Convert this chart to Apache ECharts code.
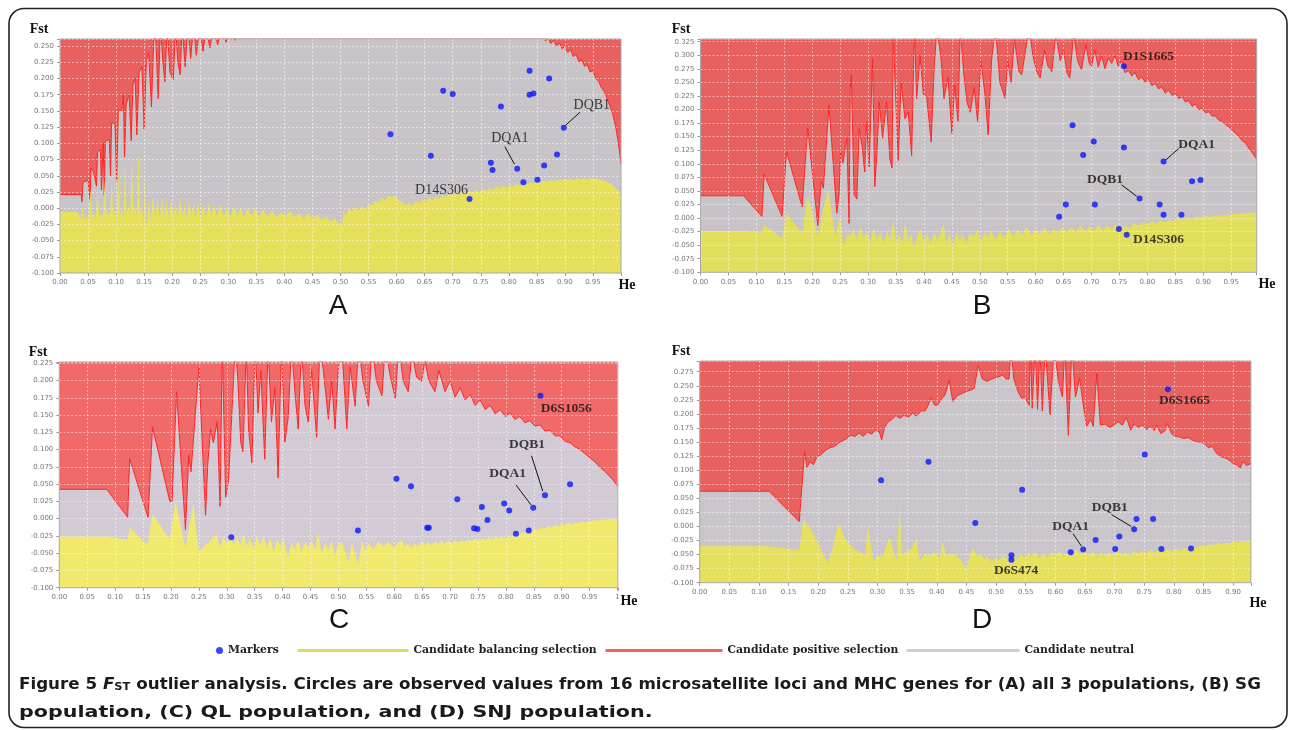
<!DOCTYPE html>
<html><head><meta charset="utf-8">
<script src="https://cdn.jsdelivr.net/npm/echarts@6/dist/echarts.min.js"></script>
<style>html,body{margin:0;padding:0;background:#fff}#c{width:1290px;height:731px}</style>
</head><body><div id="c"></div>
<script>
// ---------------- Panel A (all 3 populations) ----------------
const aUpper = [[0,0.021],[0.038,0.021],[0.039,0.010],[0.041,0.040],[0.050,0.043],[0.0535,0.011],[0.055,0.062],[0.060,0.055],[0.065,0.034],[0.067,0.087],[0.072,0.090],[0.074,0.028],[0.077,0.100],[0.079,0.020],[0.081,0.103],[0.088,0.106],[0.090,0.050],[0.092,0.132],[0.098,0.130],[0.101,0.043],[0.104,0.152],[0.110,0.150],[0.113,0.175],[0.115,0.079],[0.118,0.160],[0.123,0.176],[0.127,0.104],[0.130,0.190],[0.134,0.200],[0.137,0.113],[0.141,0.210],[0.146,0.218],[0.150,0.122],[0.154,0.228],[0.158,0.240],[0.163,0.156],[0.167,0.255],[0.170,0.28],[0.175,0.169],[0.179,0.28],[0.183,0.230],[0.187,0.195],[0.191,0.28],[0.196,0.210],[0.202,0.198],[0.206,0.28],[0.210,0.225],[0.214,0.206],[0.218,0.28],[0.223,0.218],[0.228,0.28],[0.233,0.231],[0.238,0.28],[0.243,0.236],[0.249,0.28],[0.255,0.242],[0.261,0.28],[0.267,0.247],[0.274,0.28],[0.281,0.252],[0.289,0.28],[0.296,0.256],[0.304,0.28],[0.312,0.259],[0.320,0.28],[0.860,0.28],[0.865,0.258],[0.870,0.262],[0.875,0.254],[0.880,0.259],[0.885,0.250],[0.890,0.255],[0.895,0.246],[0.900,0.250],[0.905,0.240],[0.910,0.245],[0.915,0.234],[0.920,0.237],[0.925,0.226],[0.930,0.229],[0.935,0.219],[0.940,0.221],[0.945,0.210],[0.950,0.212],[0.955,0.200],[0.960,0.196],[0.965,0.186],[0.970,0.180],[0.975,0.170],[0.980,0.158],[0.985,0.146],[0.990,0.128],[0.995,0.103],[1.0,0.068]];
const aLower = [[0,-0.006],[0.030,-0.006],[0.035,-0.012],[0.038,-0.016],[0.040,0.002],[0.043,-0.018],[0.047,-0.010],[0.050,-0.020],[0.054,0.028],[0.057,-0.012],[0.060,-0.005],[0.063,-0.018],[0.067,0.026],[0.070,-0.014],[0.073,-0.006],[0.076,-0.018],[0.080,0.043],[0.083,-0.012],[0.086,-0.004],[0.089,-0.016],[0.092,0.040],[0.095,-0.010],[0.098,-0.002],[0.101,-0.016],[0.104,0.056],[0.107,-0.010],[0.110,0.000],[0.113,-0.014],[0.116,0.069],[0.119,-0.008],[0.122,0.004],[0.125,-0.012],[0.128,0.082],[0.131,-0.006],[0.134,0.006],[0.137,-0.012],[0.140,0.092],[0.143,-0.006],[0.146,0.002],[0.149,-0.020],[0.151,0.050],[0.154,-0.025],[0.158,0.012],[0.162,-0.018],[0.166,0.020],[0.170,-0.014],[0.174,0.014],[0.178,-0.016],[0.182,0.016],[0.186,-0.012],[0.190,0.010],[0.194,-0.016],[0.198,0.013],[0.202,-0.012],[0.206,0.008],[0.210,-0.014],[0.214,0.016],[0.218,-0.012],[0.222,0.006],[0.226,-0.016],[0.230,0.012],[0.234,-0.010],[0.238,0.008],[0.242,-0.014],[0.246,0.010],[0.250,-0.012],[0.255,0.006],[0.260,-0.014],[0.265,0.008],[0.270,-0.010],[0.275,0.004],[0.280,-0.012],[0.286,0.006],[0.292,-0.013],[0.298,0.002],[0.304,-0.014],[0.310,0.004],[0.316,-0.012],[0.322,0.002],[0.328,-0.014],[0.335,0.000],[0.342,-0.012],[0.348,0.002],[0.355,-0.014],[0.362,-0.002],[0.370,-0.013],[0.378,-0.004],[0.386,-0.014],[0.394,-0.006],[0.402,-0.012],[0.410,-0.004],[0.418,-0.014],[0.426,-0.008],[0.434,-0.015],[0.442,-0.008],[0.450,-0.016],[0.458,-0.010],[0.466,-0.018],[0.474,-0.012],[0.482,-0.020],[0.490,-0.015],[0.497,-0.024],[0.502,-0.026],[0.506,-0.006],[0.510,-0.012],[0.514,0.000],[0.520,-0.006],[0.526,0.002],[0.532,-0.004],[0.538,0.004],[0.544,-0.002],[0.550,0.006],[0.556,0.004],[0.562,0.012],[0.568,0.008],[0.574,0.016],[0.580,0.013],[0.586,0.020],[0.592,0.016],[0.598,0.019],[0.604,0.012],[0.610,0.010],[0.616,0.004],[0.622,0.008],[0.628,0.004],[0.634,0.011],[0.640,0.008],[0.646,0.014],[0.652,0.010],[0.658,0.016],[0.664,0.012],[0.670,0.018],[0.676,0.014],[0.682,0.020],[0.688,0.017],[0.694,0.022],[0.700,0.019],[0.706,0.024],[0.712,0.020],[0.718,0.026],[0.724,0.022],[0.730,0.027],[0.736,0.024],[0.742,0.028],[0.748,0.025],[0.754,0.030],[0.760,0.026],[0.766,0.031],[0.772,0.028],[0.778,0.033],[0.784,0.030],[0.790,0.035],[0.796,0.032],[0.802,0.036],[0.808,0.033],[0.814,0.037],[0.820,0.035],[0.826,0.039],[0.832,0.036],[0.838,0.040],[0.844,0.038],[0.850,0.042],[0.856,0.039],[0.862,0.043],[0.868,0.040],[0.874,0.043],[0.880,0.041],[0.886,0.044],[0.892,0.042],[0.898,0.045],[0.904,0.043],[0.910,0.045],[0.916,0.043],[0.922,0.046],[0.928,0.044],[0.934,0.046],[0.940,0.044],[0.946,0.046],[0.952,0.045],[0.958,0.046],[0.964,0.043],[0.970,0.042],[0.976,0.040],[0.982,0.038],[0.988,0.034],[0.994,0.028],[1.0,0.022]];
const aMarkers = [[0.589,0.114],[0.661,0.081],[0.683,0.181],[0.700,0.176],[0.730,0.014],[0.768,0.070],[0.771,0.059],[0.786,0.157],[0.815,0.061],[0.826,0.040],[0.837,0.212],[0.837,0.175],[0.844,0.177],[0.851,0.044],[0.863,0.066],[0.872,0.200],[0.886,0.083],[0.898,0.124]];
const aNotes = [[0.948,0.159,'DQB1'],[0.802,0.107,'DQA1'],[0.680,0.028,'D14S306']];
const aArrows = [[0.927,0.148,0.900,0.127],[0.793,0.095,0.810,0.068]];

// ---------------- Panel B (SG) ----------------
const bUpper = [[0,0.041],[0.077,0.041],[0.110,0.003],[0.114,0.081],[0.146,0.003],[0.154,0.122],[0.182,0.021],[0.192,0.166],[0.210,-0.014],[0.216,0.067],[0.220,0.055],[0.230,0.208],[0.244,0.009],[0.248,0.043],[0.251,0.125],[0.255,0.101],[0.262,0.147],[0.266,-0.010],[0.268,0.239],[0.270,0.264],[0.275,0.043],[0.280,0.035],[0.284,0.165],[0.289,0.134],[0.294,0.085],[0.297,0.178],[0.302,0.094],[0.308,0.294],[0.312,0.058],[0.316,0.122],[0.320,0.214],[0.326,0.147],[0.333,0.214],[0.339,0.109],[0.343,0.092],[0.345,0.35],[0.348,0.257],[0.354,0.106],[0.359,0.251],[0.366,0.183],[0.372,0.195],[0.378,0.115],[0.383,0.35],[0.387,0.220],[0.393,0.300],[0.399,0.228],[0.405,0.222],[0.413,0.140],[0.418,0.270],[0.423,0.35],[0.430,0.300],[0.436,0.220],[0.443,0.260],[0.450,0.156],[0.455,0.245],[0.461,0.178],[0.465,0.35],[0.471,0.270],[0.477,0.214],[0.483,0.195],[0.490,0.240],[0.496,0.178],[0.502,0.290],[0.509,0.230],[0.515,0.153],[0.521,0.290],[0.528,0.35],[0.536,0.250],[0.545,0.221],[0.550,0.290],[0.556,0.250],[0.562,0.330],[0.570,0.270],[0.575,0.264],[0.582,0.310],[0.588,0.35],[0.595,0.300],[0.602,0.270],[0.608,0.258],[0.616,0.310],[0.622,0.280],[0.629,0.270],[0.636,0.340],[0.644,0.290],[0.650,0.310],[0.656,0.268],[0.661,0.258],[0.668,0.340],[0.675,0.290],[0.682,0.273],[0.690,0.320],[0.696,0.285],[0.700,0.280],[0.706,0.310],[0.712,0.278],[0.718,0.300],[0.724,0.275],[0.730,0.295],[0.736,0.285],[0.742,0.300],[0.748,0.280],[0.754,0.290],[0.760,0.268],[0.766,0.272],[0.772,0.262],[0.778,0.268],[0.784,0.255],[0.790,0.260],[0.796,0.250],[0.802,0.256],[0.808,0.244],[0.814,0.248],[0.820,0.238],[0.826,0.242],[0.832,0.230],[0.838,0.236],[0.844,0.226],[0.850,0.230],[0.856,0.220],[0.862,0.224],[0.868,0.214],[0.874,0.216],[0.880,0.206],[0.886,0.210],[0.892,0.200],[0.898,0.202],[0.904,0.194],[0.910,0.196],[0.916,0.188],[0.922,0.188],[0.928,0.180],[0.934,0.178],[0.940,0.172],[0.946,0.168],[0.952,0.162],[0.958,0.156],[0.964,0.150],[0.970,0.142],[0.976,0.138],[0.982,0.128],[0.988,0.120],[0.996,0.108]];
const bLower = [[0,-0.024],[0.068,-0.024],[0.110,-0.026],[0.114,-0.013],[0.146,-0.037],[0.154,0.009],[0.182,-0.028],[0.192,0.041],[0.210,-0.035],[0.220,0.018],[0.229,0.052],[0.241,-0.034],[0.250,0.006],[0.256,-0.053],[0.262,-0.030],[0.268,-0.032],[0.274,-0.020],[0.280,-0.040],[0.286,-0.015],[0.292,-0.036],[0.298,-0.026],[0.304,-0.044],[0.310,-0.018],[0.316,-0.038],[0.322,-0.028],[0.328,-0.046],[0.334,-0.024],[0.340,-0.040],[0.345,-0.001],[0.350,-0.044],[0.356,-0.030],[0.362,-0.046],[0.366,-0.008],[0.372,-0.040],[0.378,-0.030],[0.381,-0.056],[0.388,-0.034],[0.394,-0.020],[0.400,-0.042],[0.406,-0.030],[0.412,-0.048],[0.418,-0.026],[0.424,-0.040],[0.430,-0.028],[0.435,-0.011],[0.440,-0.044],[0.446,-0.030],[0.452,-0.052],[0.458,-0.026],[0.464,-0.040],[0.470,-0.030],[0.476,-0.046],[0.482,-0.028],[0.490,-0.034],[0.496,-0.020],[0.502,-0.044],[0.508,-0.026],[0.514,-0.036],[0.520,-0.022],[0.528,-0.040],[0.536,-0.024],[0.544,-0.036],[0.552,-0.020],[0.560,-0.034],[0.568,-0.022],[0.576,-0.030],[0.584,-0.016],[0.592,-0.032],[0.600,-0.022],[0.608,-0.030],[0.616,-0.018],[0.624,-0.030],[0.632,-0.020],[0.640,-0.028],[0.648,-0.018],[0.656,-0.026],[0.664,-0.016],[0.672,-0.026],[0.680,-0.014],[0.688,-0.024],[0.696,-0.016],[0.704,-0.024],[0.712,-0.014],[0.720,-0.022],[0.728,-0.014],[0.736,-0.020],[0.744,-0.012],[0.752,-0.020],[0.760,-0.014],[0.768,-0.018],[0.776,-0.010],[0.784,-0.014],[0.792,-0.008],[0.800,-0.012],[0.808,-0.006],[0.816,-0.010],[0.824,-0.004],[0.832,-0.008],[0.840,-0.003],[0.848,-0.006],[0.856,-0.001],[0.864,-0.004],[0.872,0.001],[0.880,-0.002],[0.888,0.003],[0.896,0.001],[0.904,0.004],[0.912,0.002],[0.920,0.005],[0.928,0.004],[0.936,0.006],[0.944,0.005],[0.952,0.008],[0.960,0.007],[0.968,0.009],[0.976,0.008],[0.984,0.010],[0.996,0.009]];
const bMarkers = [[0.758,0.280],[0.666,0.171],[0.704,0.141],[0.758,0.130],[0.685,0.116],[0.829,0.104],[0.880,0.068],[0.895,0.070],[0.786,0.036],[0.654,0.025],[0.706,0.025],[0.822,0.025],[0.642,0.0025],[0.829,0.006],[0.861,0.006],[0.749,-0.020],[0.763,-0.031]];
const bNotes = [[0.802,0.297,'D1S1665'],[0.888,0.136,'DQA1'],[0.724,0.071,'DQB1'],[0.820,-0.039,'D14S306']];
const bArrows = [[0.856,0.128,0.833,0.107],[0.754,0.061,0.781,0.040]];

// ---------------- Panel C (QL) ----------------
const cUpper = [[0,0.0425],[0.085,0.0425],[0.1225,0.002],[0.126,0.087],[0.159,0.002],[0.167,0.133],[0.198,0.025],[0.202,0.025],[0.210,0.184],[0.226,-0.016],[0.232,0.092],[0.236,0.068],[0.242,0.133],[0.250,0.220],[0.262,0.005],[0.266,0.080],[0.271,0.130],[0.276,0.110],[0.283,0.141],[0.288,0.018],[0.292,0.25],[0.298,0.031],[0.303,0.055],[0.309,0.150],[0.315,0.25],[0.320,0.200],[0.325,0.111],[0.329,0.097],[0.335,0.25],[0.339,0.130],[0.345,0.081],[0.351,0.25],[0.356,0.153],[0.361,0.215],[0.368,0.086],[0.374,0.25],[0.380,0.140],[0.386,0.190],[0.392,0.059],[0.398,0.25],[0.404,0.111],[0.410,0.146],[0.416,0.25],[0.422,0.184],[0.428,0.130],[0.434,0.25],[0.440,0.165],[0.446,0.140],[0.452,0.215],[0.461,0.118],[0.467,0.25],[0.473,0.215],[0.482,0.144],[0.488,0.200],[0.494,0.130],[0.500,0.220],[0.506,0.25],[0.515,0.130],[0.521,0.220],[0.530,0.163],[0.536,0.25],[0.544,0.200],[0.554,0.163],[0.560,0.25],[0.568,0.200],[0.578,0.178],[0.584,0.25],[0.592,0.210],[0.602,0.174],[0.608,0.25],[0.616,0.200],[0.625,0.184],[0.632,0.240],[0.640,0.205],[0.649,0.199],[0.655,0.230],[0.662,0.200],[0.673,0.184],[0.680,0.215],[0.691,0.184],[0.700,0.200],[0.709,0.176],[0.718,0.190],[0.727,0.172],[0.736,0.180],[0.745,0.164],[0.754,0.172],[0.763,0.158],[0.772,0.164],[0.781,0.152],[0.790,0.158],[0.799,0.148],[0.808,0.153],[0.816,0.144],[0.825,0.148],[0.834,0.139],[0.843,0.142],[0.852,0.134],[0.861,0.136],[0.870,0.127],[0.879,0.128],[0.888,0.120],[0.897,0.120],[0.906,0.112],[0.915,0.110],[0.924,0.104],[0.933,0.100],[0.942,0.094],[0.951,0.088],[0.960,0.082],[0.969,0.074],[0.978,0.068],[0.985,0.062],[0.992,0.056],[1.0,0.047]];
const cLower = [[0,-0.026],[0.085,-0.026],[0.1225,-0.030],[0.126,-0.012],[0.158,-0.039],[0.167,0.006],[0.198,-0.030],[0.208,0.026],[0.226,-0.043],[0.240,0.022],[0.250,-0.049],[0.258,-0.040],[0.267,-0.035],[0.275,-0.028],[0.282,-0.022],[0.288,-0.043],[0.294,-0.026],[0.300,-0.036],[0.306,-0.024],[0.312,-0.040],[0.318,-0.026],[0.324,-0.038],[0.330,-0.022],[0.336,-0.040],[0.342,-0.028],[0.348,-0.044],[0.354,-0.024],[0.360,-0.038],[0.366,-0.026],[0.372,-0.042],[0.378,-0.028],[0.384,-0.046],[0.390,-0.030],[0.396,-0.040],[0.402,-0.028],[0.410,-0.057],[0.416,-0.034],[0.422,-0.044],[0.428,-0.030],[0.434,-0.048],[0.440,-0.034],[0.446,-0.042],[0.452,-0.030],[0.458,-0.046],[0.464,-0.020],[0.470,-0.050],[0.476,-0.036],[0.482,-0.044],[0.488,-0.032],[0.494,-0.053],[0.500,-0.036],[0.506,-0.033],[0.512,-0.046],[0.518,-0.062],[0.524,-0.034],[0.530,-0.050],[0.536,-0.067],[0.542,-0.032],[0.548,-0.046],[0.554,-0.036],[0.562,-0.044],[0.572,-0.033],[0.580,-0.040],[0.590,-0.034],[0.600,-0.042],[0.606,-0.035],[0.613,-0.031],[0.619,-0.040],[0.625,-0.036],[0.631,-0.042],[0.637,-0.036],[0.643,-0.040],[0.649,-0.033],[0.655,-0.038],[0.661,-0.034],[0.667,-0.039],[0.673,-0.033],[0.679,-0.037],[0.685,-0.031],[0.691,-0.036],[0.697,-0.032],[0.703,-0.036],[0.709,-0.031],[0.715,-0.035],[0.721,-0.031],[0.727,-0.034],[0.733,-0.030],[0.739,-0.033],[0.745,-0.029],[0.751,-0.032],[0.757,-0.028],[0.763,-0.031],[0.769,-0.027],[0.775,-0.030],[0.781,-0.026],[0.787,-0.029],[0.793,-0.026],[0.799,-0.029],[0.805,-0.024],[0.811,-0.027],[0.817,-0.022],[0.822,-0.025],[0.828,-0.019],[0.834,-0.021],[0.840,-0.016],[0.846,-0.019],[0.852,-0.014],[0.858,-0.017],[0.864,-0.012],[0.870,-0.015],[0.876,-0.010],[0.882,-0.013],[0.888,-0.009],[0.894,-0.011],[0.900,-0.007],[0.906,-0.010],[0.912,-0.006],[0.918,-0.008],[0.924,-0.005],[0.930,-0.007],[0.936,-0.004],[0.942,-0.006],[0.948,-0.003],[0.954,-0.004],[0.960,-0.002],[0.966,-0.003],[0.972,-0.001],[0.980,-0.002],[0.990,0.000],[1.0,0.000]];
const cMarkers = [[0.308,-0.027],[0.535,-0.017],[0.604,0.058],[0.630,0.047],[0.659,-0.013],[0.662,-0.013],[0.713,0.028],[0.743,-0.014],[0.749,-0.015],[0.757,0.017],[0.767,-0.002],[0.797,0.022],[0.806,0.012],[0.818,-0.022],[0.841,-0.017],[0.849,0.016],[0.870,0.034],[0.862,0.178],[0.915,0.050]];
const cNotes = [[0.908,0.159,'D6S1056'],[0.838,0.107,'DQB1'],[0.803,0.065,'DQA1']];
const cArrows = [[0.846,0.091,0.866,0.040],[0.818,0.049,0.845,0.020]];

// ---------------- Panel D (SNJ) ----------------
const dUpper = [[0,0.0625],[0.117,0.0625],[0.168,0.0085],[0.177,0.133],[0.181,0.105],[0.186,0.115],[0.192,0.110],[0.198,0.124],[0.205,0.128],[0.213,0.136],[0.220,0.140],[0.227,0.142],[0.234,0.148],[0.241,0.152],[0.248,0.156],[0.255,0.162],[0.262,0.160],[0.269,0.166],[0.276,0.160],[0.283,0.168],[0.290,0.164],[0.297,0.171],[0.303,0.168],[0.307,0.154],[0.312,0.176],[0.317,0.185],[0.324,0.190],[0.331,0.197],[0.338,0.192],[0.345,0.198],[0.352,0.194],[0.360,0.202],[0.365,0.196],[0.369,0.200],[0.375,0.206],[0.380,0.205],[0.385,0.214],[0.390,0.229],[0.396,0.216],[0.401,0.215],[0.408,0.226],[0.414,0.234],[0.421,0.260],[0.427,0.222],[0.434,0.232],[0.442,0.236],[0.450,0.240],[0.457,0.242],[0.463,0.245],[0.470,0.286],[0.477,0.262],[0.484,0.258],[0.491,0.261],[0.498,0.264],[0.505,0.266],[0.511,0.269],[0.517,0.262],[0.522,0.262],[0.525,0.32],[0.530,0.262],[0.537,0.240],[0.543,0.228],[0.549,0.229],[0.556,0.215],[0.558,0.32],[0.561,0.210],[0.566,0.32],[0.570,0.208],[0.574,0.32],[0.578,0.205],[0.583,0.32],[0.591,0.198],[0.598,0.32],[0.605,0.260],[0.612,0.230],[0.616,0.32],[0.622,0.162],[0.628,0.32],[0.634,0.230],[0.641,0.263],[0.648,0.210],[0.653,0.178],[0.660,0.190],[0.664,0.178],[0.670,0.272],[0.676,0.180],[0.684,0.182],[0.692,0.176],[0.699,0.180],[0.706,0.186],[0.713,0.180],[0.720,0.194],[0.727,0.171],[0.733,0.182],[0.740,0.176],[0.747,0.180],[0.754,0.172],[0.761,0.178],[0.767,0.170],[0.771,0.180],[0.778,0.165],[0.785,0.170],[0.789,0.183],[0.796,0.165],[0.803,0.160],[0.810,0.159],[0.817,0.156],[0.824,0.158],[0.830,0.154],[0.837,0.151],[0.844,0.150],[0.851,0.148],[0.858,0.140],[0.865,0.142],[0.872,0.130],[0.879,0.124],[0.886,0.122],[0.893,0.118],[0.900,0.112],[0.907,0.109],[0.912,0.104],[0.917,0.115],[0.923,0.108],[0.930,0.112]];
const dLower = [[0,-0.035],[0.117,-0.035],[0.168,-0.042],[0.175,0.0127],[0.190,-0.010],[0.205,-0.040],[0.215,-0.065],[0.224,-0.040],[0.234,0.006],[0.245,-0.020],[0.262,-0.042],[0.272,-0.046],[0.279,-0.051],[0.284,0.001],[0.290,-0.040],[0.293,-0.064],[0.299,-0.052],[0.305,-0.054],[0.310,-0.050],[0.316,-0.030],[0.321,-0.018],[0.327,-0.045],[0.333,-0.060],[0.337,0.044],[0.341,-0.050],[0.349,-0.045],[0.357,-0.040],[0.366,-0.021],[0.372,-0.062],[0.380,-0.048],[0.388,-0.052],[0.395,-0.045],[0.405,-0.057],[0.410,-0.027],[0.416,-0.051],[0.425,-0.048],[0.433,-0.051],[0.441,-0.060],[0.450,-0.075],[0.457,-0.048],[0.462,-0.039],[0.468,-0.054],[0.474,-0.050],[0.480,-0.058],[0.486,-0.052],[0.492,-0.063],[0.498,-0.055],[0.505,-0.060],[0.512,-0.052],[0.518,-0.057],[0.524,-0.066],[0.530,-0.050],[0.536,-0.060],[0.542,-0.050],[0.548,-0.056],[0.554,-0.046],[0.560,-0.054],[0.566,-0.046],[0.574,-0.056],[0.580,-0.048],[0.587,-0.056],[0.594,-0.044],[0.600,-0.052],[0.607,-0.044],[0.614,-0.054],[0.621,-0.046],[0.628,-0.052],[0.635,-0.040],[0.642,-0.050],[0.649,-0.042],[0.656,-0.052],[0.663,-0.044],[0.670,-0.054],[0.677,-0.046],[0.684,-0.052],[0.691,-0.046],[0.698,-0.052],[0.705,-0.044],[0.712,-0.050],[0.719,-0.046],[0.726,-0.052],[0.733,-0.044],[0.740,-0.048],[0.747,-0.043],[0.754,-0.048],[0.761,-0.042],[0.768,-0.047],[0.775,-0.041],[0.782,-0.046],[0.789,-0.040],[0.796,-0.044],[0.803,-0.039],[0.810,-0.043],[0.817,-0.038],[0.824,-0.041],[0.831,-0.036],[0.838,-0.038],[0.845,-0.034],[0.852,-0.036],[0.859,-0.032],[0.866,-0.034],[0.873,-0.030],[0.880,-0.032],[0.887,-0.029],[0.894,-0.030],[0.901,-0.027],[0.908,-0.029],[0.915,-0.026],[0.922,-0.027],[0.930,-0.024]];
const dMarkers = [[0.306,0.082],[0.386,0.115],[0.465,0.006],[0.526,-0.051],[0.526,-0.059],[0.544,0.065],[0.626,-0.046],[0.647,-0.041],[0.668,-0.024],[0.701,-0.040],[0.708,-0.018],[0.733,-0.005],[0.737,0.013],[0.751,0.128],[0.765,0.013],[0.779,-0.040],[0.790,0.244],[0.829,-0.039]];
const dNotes = [[0.818,0.223,'D6S1665'],[0.692,0.033,'DQB1'],[0.626,0.000,'DQA1'],[0.534,-0.079,'D6S474']];
const dArrows = [[0.695,0.021,0.728,0.000],[0.630,-0.013,0.644,-0.035]];

// axis settings
const xStep = 0.05, yStep = 0.025;
const legendNames = ['Markers','Candidate balancing selection','Candidate positive selection','Candidate neutral'];
const caption1 = ' outlier analysis. Circles are observed values from 16 microsatellite loci and MHC genes for (A) all 3 populations, (B) SG';
const caption2 = 'population, (C) QL population, and (D) SNJ population.';

function isMult(v, s){ const r = v / s; return Math.abs(r - Math.round(r)) < 1e-4; }

const panels = [
  {grid:{left:60, top:39, width:561, height:234}, xMax:1, yMax:0.261, up:aUpper, lo:aLower, mk:aMarkers, notes:aNotes, arrows:aArrows, red:'#e8615f', gray:'#c8c4c8', yellow:'#e6e05c', bold:false, endLabel:''},
  {grid:{left:700.5, top:39, width:556.2, height:233.3}, xMax:0.9957, yMax:0.33, up:bUpper, lo:bLower, mk:bMarkers, notes:bNotes, arrows:bArrows, red:'#e8615f', gray:'#c7c3c7', yellow:'#e3df5e', bold:true, endLabel:''},
  {grid:{left:59.3, top:362, width:558.5, height:225.7}, xMax:1.0005, yMax:0.227, up:cUpper, lo:cLower, mk:cMarkers, notes:cNotes, arrows:cArrows, red:'#f06a6a', gray:'#d2cad4', yellow:'#f0e96e', bold:true, endLabel:'1'},
  {grid:{left:699.7, top:361, width:551.2, height:221.7}, xMax:0.93, yMax:0.294, up:dUpper, lo:dLower, mk:dMarkers, notes:dNotes, arrows:dArrows, red:'#e8615f', gray:'#c9c5ca', yellow:'#e6e05c', bold:true, endLabel:''}
];

const grids = [], xAxes = [], yAxes = [], series = [];
panels.forEach((p, i) => {
  grids.push(Object.assign({show:true, borderColor:'#a8a8a8', borderWidth:1, backgroundColor:'transparent', z:10}, p.grid));
  const tickFont = {fontFamily:'DejaVu Sans', fontSize:7, color:'#777'};
  const split = {show:true, lineStyle:{color:'rgba(255,255,255,0.5)', type:[2,2], width:1}};
  xAxes.push({type:'value', gridIndex:i, position:'bottom', min:0, max:p.xMax, interval:xStep, z:5,
    axisLine:{show:false, onZero:false}, axisTick:{show:true, length:3, lineStyle:{color:'#999'}},
    axisLabel:Object.assign({margin:6, showMaxLabel:true, hideOverlap:false, formatter:v => {
      if (!isMult(v, xStep)) return '';
      if (v > 0.9995) return p.endLabel;
      return (Math.abs(v) < 1e-9 ? 0 : v).toFixed(2);
    }}, tickFont),
    splitLine:split});
  yAxes.push({type:'value', gridIndex:i, position:'left', min:-0.1, max:p.yMax, interval:yStep, z:5,
    axisLine:{show:false, onZero:false}, axisTick:{show:true, length:3, lineStyle:{color:'#999'}},
    axisLabel:Object.assign({margin:6, formatter:v => {
      if (!isMult(v, yStep)) return '';
      return (Math.abs(v) < 1e-9 ? 0 : v).toFixed(3);
    }}, tickFont),
    splitLine:split});
  const common = {type:'line', xAxisIndex:i, yAxisIndex:i, symbol:'none', showSymbol:false, silent:true, animation:false};
  series.push(Object.assign({}, common, {name:'Candidate neutral', data:p.up, z:1,
    lineStyle:{width:0, color:'#d6c6d6'}, itemStyle:{color:'#d6c6d6'},
    areaStyle:{color:p.gray, opacity:1, origin:'start'}}));
  series.push(Object.assign({}, common, {name:'Candidate positive selection', data:p.up, z:2,
    lineStyle:{width:1, color:'#ff2424'}, itemStyle:{color:'#ef6262'},
    areaStyle:{color:p.red, opacity:1, origin:'end'}}));
  series.push(Object.assign({}, common, {name:'Candidate balancing selection', data:p.lo, z:3,
    lineStyle:{width:0, color:'#dfd957'}, itemStyle:{color:'#dfd957'},
    areaStyle:{color:p.yellow, opacity:1, origin:'start'}}));
  series.push({name:'Markers', type:'scatter', xAxisIndex:i, yAxisIndex:i, data:p.mk, symbol:'circle', symbolSize:6,
    itemStyle:{color:'#0a18ff'}, z:6, silent:true, animation:false});
  series.push({name:'notes'+i, type:'scatter', xAxisIndex:i, yAxisIndex:i, data:p.notes, symbolSize:0, z:7, silent:true, animation:false,
    itemStyle:{color:'transparent'},
    label:{show:true, position:'inside', formatter:q => q.data[2], fontFamily:'Liberation Serif', fontSize:p.bold?13.5:14, fontWeight:p.bold?'bold':'normal', color:'#111'},
    markLine:{silent:true, animation:false, symbol:['none','arrow'], symbolSize:[0,6], label:{show:false},
      lineStyle:{color:'#111', width:1, type:'solid'},
      data:p.arrows.map(a => [{coord:[a[0],a[1]]},{coord:[a[2],a[3]]}])}});
});

const legendText = {fontFamily:'DejaVu Serif', fontWeight:'bold', fontSize:10.8, color:'#222'};
const legends = [
  {data:[{name:legendNames[0], icon:'circle', itemStyle:{color:'#0a18ff'}}], left:216, top:645, itemWidth:7, itemHeight:9},
  {data:[{name:legendNames[1], itemStyle:{color:'#e1dc5c'}, lineStyle:{color:'#e1dc5c', width:3}}], left:296, top:645, itemWidth:111, itemHeight:3},
  {data:[{name:legendNames[2], itemStyle:{color:'#f06464'}, lineStyle:{color:'#f06464', width:3}}], left:604, top:645, itemWidth:117, itemHeight:3},
  {data:[{name:legendNames[3], itemStyle:{color:'#d8c8d8'}, lineStyle:{color:'#d8c8d8', width:3}}], left:905, top:645, itemWidth:113, itemHeight:3}
].map(l => Object.assign({selectedMode:false, padding:0, itemGap:0, textStyle:legendText}, l));

const serifB = 'bold 14px "Liberation Serif"';
const letterFont = '28px "Liberation Sans"';
function txt(x, y, text, font, align){ return {type:'text', x:x, y:y, silent:true, style:{text:text, font:font, fill:'#111', align:align||'center', verticalAlign:'middle'}}; }
const capFont = '"DejaVu Sans"';
const graphics = [
  {type:'rect', silent:true, shape:{x:9, y:8.5, width:1278, height:719, r:15}, style:{fill:'none', stroke:'#222', lineWidth:1.6}},
  txt(39, 29, 'Fst', serifB), txt(681, 29, 'Fst', serifB), txt(38, 352, 'Fst', serifB), txt(681, 351, 'Fst', serifB),
  txt(627, 285, 'He', serifB), txt(1267, 284, 'He', serifB), txt(629, 601, 'He', serifB), txt(1258, 603, 'He', serifB),
  txt(338, 306, 'A', letterFont), txt(982, 306, 'B', letterFont), txt(339, 620, 'C', letterFont), txt(982, 620, 'D', letterFont),
  {type:'text', x:19, y:682, scaleX:1.045, silent:true, style:{
    text:'{b|Figure 5 }{i|F}{s|ST}{b|' + caption1 + '}', align:'left', verticalAlign:'middle', fill:'#1a1a1a',
    rich:{
      b:{fontFamily:capFont, fontWeight:'bold', fontSize:16, lineHeight:22, verticalAlign:'bottom', fill:'#1a1a1a'},
      i:{fontFamily:capFont, fontWeight:'bold', fontStyle:'italic', fontSize:16, lineHeight:22, verticalAlign:'bottom', fill:'#1a1a1a'},
      s:{fontFamily:capFont, fontWeight:'bold', fontSize:11, lineHeight:12, verticalAlign:'bottom', fill:'#1a1a1a'}
    }}},
  {type:'text', x:19, y:713, scaleX:1.29, silent:true, style:{text:caption2, font:'bold 16px ' + capFont, fill:'#1a1a1a', align:'left', verticalAlign:'middle'}}
];

const chart = echarts.init(document.getElementById('c'), null, {renderer:'canvas', width:1290, height:731});
chart.setOption({
  animation:false,
  backgroundColor:'#ffffff',
  grid:grids, xAxis:xAxes, yAxis:yAxes, series:series,
  legend:legends,
  graphic:{elements:graphics}
});
</script>
</body></html>
